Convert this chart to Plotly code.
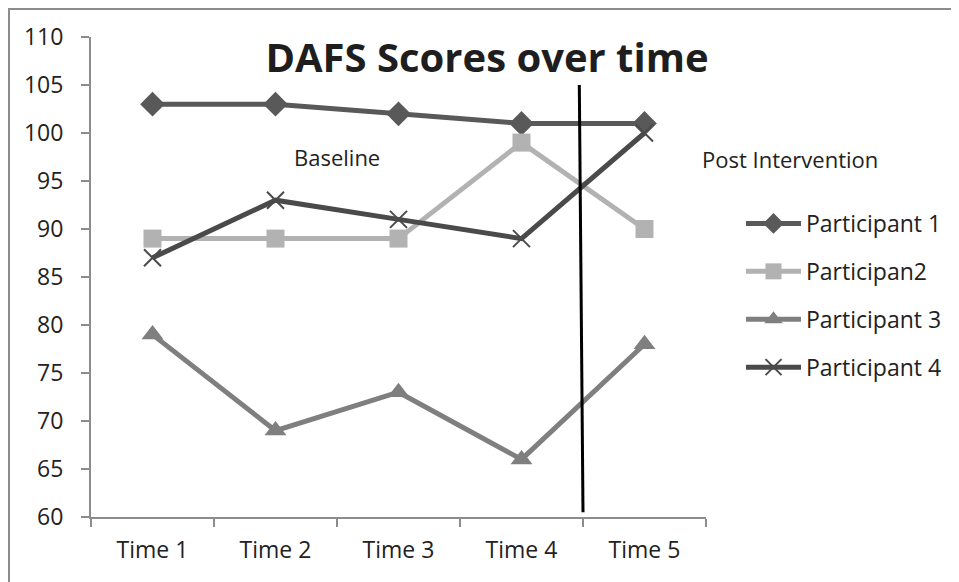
import plotly.graph_objects as go

categories = ["Time 1", "Time 2", "Time 3", "Time 4", "Time 5"]
p1 = [103, 103, 102, 101, 101]
p2 = [89, 89, 89, 99, 90]
p3 = [79, 69, 73, 66, 78]
p4 = [87, 93, 91, 89, 100]

series = [
    ("Participant 1", p1, "#595959", "diamond", 19),
    ("Participan2", p2, "#b2b2b2", "square", 18),
    ("Participant 3", p3, "#7f7f7f", "triangle-up", 19),
    ("Participant 4", p4, "#4a4a4a", "x-thin-open", 17),
]

FONT = "Open Sans"
fig = go.Figure()
for i, (name, vals, col, sym, sz) in enumerate(series):
    marker = dict(symbol=sym, size=sz, color=col)
    if sym == "x-thin-open":
        marker["line"] = dict(color=col, width=2)
    fig.add_trace(go.Scatter(
        x=categories, y=vals, name=name, mode="lines+markers",
        line=dict(color=col, width=5), marker=marker,
        legendgroup=f"g{i}",
    ))

# page body has an 8px default margin; figure is sized/offset to compensate
OFF = 8
W, H = 959 - OFF, 582 - OFF
L, T = 91 - OFF, 37 - OFF
R = W - (706 - OFF)
B = H - (517 - OFF)
pw, ph = W - L - R, H - T - B

def px2paper_x(px):
    return (px - OFF - L) / pw

def px2paper_y(py):
    return (H - B - (py - OFF)) / ph

fig.update_layout(
    width=W, height=H,
    margin=dict(l=L, r=R, t=T, b=B),
    paper_bgcolor="white", plot_bgcolor="white",
    font=dict(family=FONT, color="#222222", size=22),
    title=dict(text="<b>DAFS Scores over time</b>", x=(487 - OFF) / W, xanchor="center",
               y=1 - (58 - OFF) / H, yanchor="middle",
               font=dict(family=FONT, size=40, color="#1e1e1e")),
    xaxis=dict(type="category", range=[-0.5, 4.5], showgrid=False,
               showline=True, linecolor="#8c8c8c", linewidth=2,
               ticks="outside", ticklen=8, tickwidth=2, tickcolor="#8c8c8c",
               tickson="boundaries", ticklabelstandoff=11,
               tickfont=dict(size=23, family=FONT, color="#222222")),
    yaxis=dict(range=[60, 110], dtick=5, showgrid=False, zeroline=False,
               showline=True, linecolor="#8c8c8c", linewidth=2,
               ticks="outside", ticklen=8, tickwidth=2, tickcolor="#8c8c8c",
               ticklabelstandoff=13,
               tickfont=dict(size=23, family=FONT, color="#222222")),
    legend=dict(x=px2paper_x(741), y=px2paper_y(202), xanchor="left", yanchor="top",
                font=dict(size=23, family=FONT, color="#222222"), tracegroupgap=15,
                itemwidth=55, bgcolor="rgba(0,0,0,0)"),
    showlegend=True,
)

fig.add_shape(type="line", xref="x", yref="y", x0=3.47, x1=3.5, y0=105.0, y1=60.5,
              line=dict(color="black", width=3))
fig.add_shape(type="rect", xref="paper", yref="paper",
              x0=px2paper_x(9), x1=px2paper_x(990), y0=px2paper_y(9), y1=px2paper_y(620),
              line=dict(color="#8c8c8c", width=2), layer="below")

fig.add_annotation(text="Baseline", xref="paper", yref="paper",
                   x=px2paper_x(337), y=px2paper_y(157), showarrow=False,
                   xanchor="center", yanchor="middle",
                   font=dict(size=22, family=FONT, color="#222222"))
fig.add_annotation(text="Post Intervention", xref="paper", yref="paper",
                   x=px2paper_x(790), y=px2paper_y(159), showarrow=False,
                   xanchor="center", yanchor="middle",
                   font=dict(size=22, family=FONT, color="#222222"))

fig.write_html("out.html")
